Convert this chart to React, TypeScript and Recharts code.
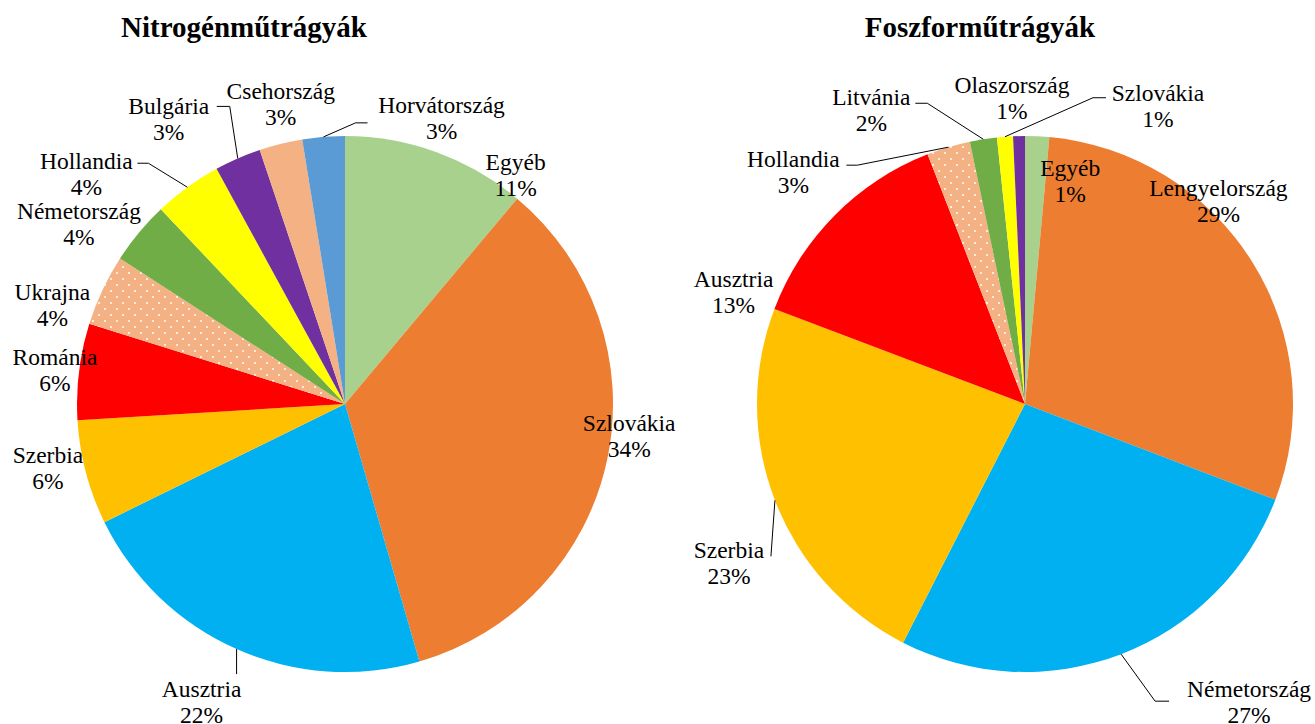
import { PieChart, Pie, Cell } from 'recharts';

// same colour order in both pies, 6th slice is the dotted salmon one
const SLICE_COLOURS = ['#A9D18E', '#ED7D31', '#00B0F0', '#FFC000', '#FF0000', 'url(#dots)', '#70AD47', '#FFFF00', '#7030A0', '#F4B183', '#5B9BD5'];

const nitrogenCountries = ['Egyéb', 'Szlovákia', 'Ausztria', 'Szerbia', 'Románia', 'Ukrajna', 'Németország', 'Hollandia', 'Bulgária', 'Csehország', 'Horvátország'];
const nitrogenShares = [11.1, 34.4, 22.2, 6.3, 5.8, 4.3, 3.8, 4.1, 2.8, 2.6, 2.55];

const phosphorCountries = ['Egyéb', 'Lengyelország', 'Németország', 'Szerbia', 'Ausztria', 'Hollandia', 'Litvánia', 'Szlovákia', 'Olaszország'];
const phosphorShares = [1.45, 29.35, 26.7, 23.25, 13.3, 2.62, 1.63, 0.96, 0.71];

const nitrogenData = nitrogenCountries.map((name, i) => ({ name, value: nitrogenShares[i] }));
const phosphorData = phosphorCountries.map((name, i) => ({ name, value: phosphorShares[i] }));

// label placement relative to the slice's outer mid point; lead = [elbow dx, elbow dy, horizontal tail]
interface LabelPos { dx: number; dy: number; lead?: [number, number, number]; }

const nitrogenLabels: LabelPos[] = [
  { dx: 79, dy: 23 },
  { dx: 22, dy: -23 },
  { dx: -35, dy: 53, lead: [0, 25, 0] },
  { dx: -38, dy: -5 },
  { dx: -24, dy: -1 },
  { dx: -50, dy: 15 },
  { dx: -60, dy: -9 },
  { dx: -101, dy: -13, lead: [-39, -24, -11] },
  { dx: -69, dy: -39, lead: [-8, -52, -13] },
  { dx: 0, dy: -40 },
  { dx: 118, dy: -19, lead: [32, -14, 12] },
];

const phosphorLabels: LabelPos[] = [
  { dx: 33, dy: 45 },
  { dx: -34, dy: -61 },
  { dx: 128, dy: 48, lead: [34, 47, 14] },
  { dx: -46, dy: 63, lead: [-4, 56, 0] },
  { dx: -101, dy: 77 },
  { dx: -155, dy: 25, lead: [-91, 18, -11] },
  { dx: -112, dy: -29, lead: [-56, -36, -12] },
  { dx: 153, dy: -31, lead: [88, -39, 13] },
  { dx: -7, dy: -38 },
];

const FONT = '"Liberation Serif", "Times New Roman", serif';
const RADIUS = 268;

function makeLabel(layout: LabelPos[]) {
  return (p: any) => {
    const { cx, cy, midAngle, outerRadius, index, name, percent } = p;
    const rad = (-midAngle * Math.PI) / 180;
    const ex = cx + outerRadius * Math.cos(rad);
    const ey = cy + outerRadius * Math.sin(rad);
    const pos = layout[index];
    const tx = ex + pos.dx;
    const ty = ey + pos.dy;
    let line = null;
    if (pos.lead) {
      const [lx, ly, h] = pos.lead;
      const pts = `${ex},${ey} ${ex + lx},${ey + ly} ${ex + lx + h},${ey + ly}`;
      line = <polyline points={pts} fill="none" stroke="#000" strokeWidth={1} />;
    }
    const ts = { fontFamily: FONT, fontSize: 23.5 };
    return (
      <g>
        {line}
        <text x={tx} y={ty - 13} textAnchor="middle" dominantBaseline="central" style={ts} fill="#000">{name}</text>
        <text x={tx} y={ty + 13} textAnchor="middle" dominantBaseline="central" style={ts} fill="#000">{Math.round(percent * 100)}%</text>
      </g>
    );
  };
}

export default function App() {
  return (
    <div style={{ position: 'absolute', left: 0, top: 0, width: 1315, height: 724, background: '#fff', fontFamily: FONT }}>
      <svg width={1315} height={724} style={{ position: 'absolute', left: 0, top: 0 }}>
        <defs>
          <pattern id="dots" width={12} height={12} patternUnits="userSpaceOnUse">
            <rect width={12} height={12} fill="#F4B183" />
            <circle cx={3} cy={3} r={1} fill="#fff" />
            <circle cx={9} cy={9} r={1} fill="#fff" />
          </pattern>
        </defs>
        <text x={244} y={37} textAnchor="middle" style={{ fontFamily: FONT, fontWeight: 'bold', fontSize: 29 }}>Nitrogénműtrágyák</text>
        <text x={980} y={37} textAnchor="middle" style={{ fontFamily: FONT, fontWeight: 'bold', fontSize: 29 }}>Foszforműtrágyák</text>
      </svg>
      <div style={{ position: 'absolute', left: 0, top: 0 }}>
        <PieChart width={1315} height={724} margin={{ top: 0, right: 0, bottom: 0, left: 0 }}>
          <Pie
            data={nitrogenData}
            dataKey="value"
            nameKey="name"
            cx={345}
            cy={404}
            outerRadius={RADIUS}
            startAngle={90}
            endAngle={-270}
            stroke="none"
            label={makeLabel(nitrogenLabels)}
            labelLine={false}
            isAnimationActive={false}
          >
            {nitrogenData.map((_, i) => <Cell key={i} fill={SLICE_COLOURS[i % SLICE_COLOURS.length]} />)}
          </Pie>
          <Pie
            data={phosphorData}
            dataKey="value"
            nameKey="name"
            cx={1025}
            cy={404}
            outerRadius={RADIUS}
            startAngle={90}
            endAngle={-270}
            stroke="none"
            label={makeLabel(phosphorLabels)}
            labelLine={false}
            isAnimationActive={false}
          >
            {phosphorData.map((_, i) => <Cell key={i} fill={SLICE_COLOURS[i % SLICE_COLOURS.length]} />)}
          </Pie>
        </PieChart>
      </div>
    </div>
  );
}
